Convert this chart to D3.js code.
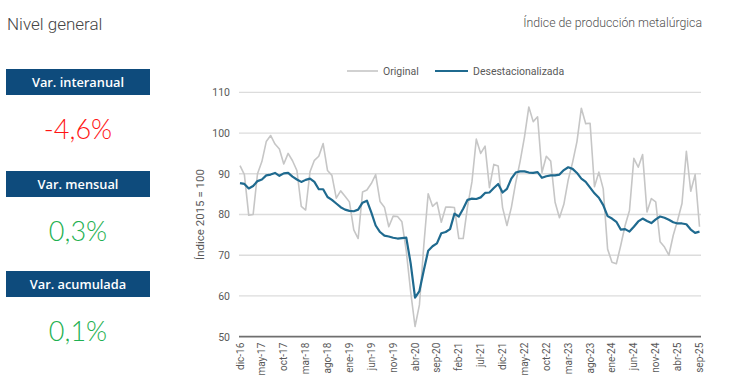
<!DOCTYPE html>
<html>
<head>
<meta charset="utf-8">
<script src="https://cdn.jsdelivr.net/npm/d3@7"></script>
<style>
  body { margin: 0; background: #fff; }
  svg { display: block; }
  .axis-txt { font-family: "Liberation Sans Narrow", "Roboto", sans-serif; fill: #595959; }
</style>
</head>
<body>
<svg id="chart" width="730" height="388"></svg>
<script>
'use strict';

// monthly categories dic-16 .. sep-25
let monthNames = ["ene","feb","mar","abr","may","jun","jul","ago","sep","oct","nov","dic"];
let months = [];
for (let k = 11; k < 11 + 106; k++) {
    months.push(monthNames[k % 12] + "-" + (16 + Math.floor(k / 12)));
}

let tickLabels = ["dic-16","may-17","oct-17","mar-18","ago-18","ene-19","jun-19","nov-19",
    "abr-20","sep-20","feb-21","jul-21","dic-21","may-22","oct-22","mar-23","ago-23",
    "ene-24","jun-24","nov-24","abr-25","sep-25"];

let yTicks = [50, 60, 70, 80, 90, 100, 110];

let original = [
    92.0, 89.8, 79.8, 80.0, 90.0, 93.0, 97.9, 99.4, 97.3, 96.1,
    92.4, 95.0, 93.2, 90.8, 82.0, 81.1, 90.5, 93.3, 94.3, 97.4,
    90.8, 89.6, 84.0, 85.8, 84.5, 83.1, 76.2, 74.1, 85.5, 86.0,
    87.6, 89.8, 83.2, 81.8, 77.0, 79.6, 79.5, 78.2, 71.0, 61.0,
    52.5, 57.8, 72.4, 85.1, 82.0, 83.0, 78.1, 81.8, 81.8, 81.7,
    74.1, 74.1, 82.0, 88.0, 98.5, 95.0, 96.8, 86.6, 92.3, 91.9,
    81.7, 77.3, 81.7, 87.8, 93.0, 99.0, 106.4, 102.8, 104.0, 90.3,
    94.3, 93.1, 83.0, 79.2, 82.5, 88.5, 92.8, 97.9, 106.1, 102.3,
    102.4, 86.8, 90.4, 86.3, 71.5, 68.3, 67.9, 72.4, 77.3, 81.0,
    93.8, 91.6, 94.7, 80.6, 83.9, 83.1, 73.3, 72.0, 70.0, 74.9,
    78.6, 82.7, 95.5, 85.7, 89.8, 77.0
];

let desest = [
    87.7, 87.5, 86.4, 87.0, 88.2, 88.6, 89.6, 89.8, 90.2, 89.5,
    90.1, 90.2, 89.3, 88.6, 88.0, 88.5, 88.8, 88.0, 86.2, 86.2,
    84.3, 83.6, 82.7, 81.8, 81.2, 80.9, 80.8, 81.2, 82.9, 83.4,
    80.5, 77.3, 75.7, 74.8, 74.6, 74.3, 74.1, 74.2, 74.3, 68.0,
    59.6, 61.2, 66.3, 71.1, 72.2, 72.9, 75.4, 75.7, 76.4, 80.2,
    79.5, 81.4, 83.6, 83.9, 83.8, 84.2, 85.3, 85.4, 86.5, 87.5,
    85.4, 86.3, 88.8, 90.3, 90.6, 90.6, 90.3, 90.2, 90.4, 89.0,
    89.4, 89.6, 89.6, 89.8, 90.9, 91.6, 91.2, 90.2, 88.8, 88.0,
    86.6, 85.2, 84.1, 82.3, 79.6, 79.0, 78.2, 76.3, 76.4, 75.8,
    77.0, 78.3, 79.0, 78.4, 77.9, 78.8, 79.5, 79.2, 78.7, 78.1,
    77.8, 77.8, 77.6, 76.3, 75.5, 75.8
];

let kpiLabels = ["Var. interanual", "Var. mensual", "Var. acumulada"];
let kpiValues = ["-4,6%", "0,3%", "0,1%"];
let kpiColors = ["#ff1414", "#1fb152", "#1fb152"];

let svg = d3.select("#chart");

// header
svg.append("text")
    .attr("x", 7).attr("y", 30)
    .style("font-family", "Roboto, 'Open Sans', sans-serif")
    .style("font-weight", 300)
    .style("font-size", "17px")
    .style("fill", "#454545")
    .text("Nivel general");

svg.append("text")
    .attr("x", 702).attr("y", 27)
    .attr("text-anchor", "end")
    .style("font-family", "Roboto, 'Open Sans', sans-serif")
    .style("font-weight", 300)
    .style("font-size", "12.3px")
    .style("fill", "#505050")
    .text("Índice de producción metalúrgica");

// KPI boxes on the left
let kpiTop = [69, 171, 271];
let kpi = svg.selectAll("g.kpi")
    .data(kpiLabels)
    .enter().append("g")
    .attr("class", "kpi")
    .attr("transform", (d, i) => "translate(6," + kpiTop[i] + ")");
kpi.append("rect")
    .attr("width", 144).attr("height", 26)
    .attr("fill", "#0e4b7c");
kpi.append("text")
    .attr("x", 72).attr("y", 18)
    .attr("text-anchor", "middle")
    .style("font-family", "'Open Sans', Lato, sans-serif")
    .style("font-weight", 600)
    .style("font-size", "12.8px")
    .style("fill", "#fff")
    .text(d => d);
kpi.append("text")
    .attr("x", 72).attr("y", 70)
    .attr("text-anchor", "middle")
    .style("font-family", "Lato, 'Open Sans', sans-serif")
    .style("font-weight", 300)
    .style("font-size", "27px")
    .style("fill", (d, i) => kpiColors[i])
    .text((d, i) => kpiValues[i]);

// chart
let margin = {left: 239, right: 701, top: 92.3, bottom: 336.7};

let x = d3.scalePoint()
    .domain(months)
    .range([240, 699.5]);

let y = d3.scaleLinear()
    .domain([50, 110])
    .range([margin.bottom, margin.top]);

// gridlines
svg.append("g")
    .selectAll("line")
    .data(yTicks.filter(d => d > 50))
    .enter().append("line")
    .attr("x1", margin.left).attr("x2", margin.right)
    .attr("y1", d => y(d)).attr("y2", d => y(d))
    .attr("stroke", "#dcdcdc")
    .attr("stroke-width", 1.3);

// y axis labels
let yAxis = svg.append("g")
    .attr("transform", "translate(" + margin.left + ",0)")
    .call(d3.axisLeft(y).tickValues(yTicks).tickSize(0).tickPadding(9));
yAxis.select(".domain").remove();
yAxis.selectAll("text")
    .attr("class", "axis-txt")
    .style("font-size", "10.5px");

// x axis
let xAxis = svg.append("g")
    .attr("transform", "translate(0," + margin.bottom + ")")
    .call(d3.axisBottom(x).tickValues(tickLabels).tickSize(0).tickPadding(6));
xAxis.select(".domain").remove();
xAxis.selectAll("text")
    .attr("class", "axis-txt")
    .style("font-size", "10px")
    .attr("text-anchor", "end")
    .attr("transform", "rotate(-90)")
    .attr("x", -6)
    .attr("y", 0)
    .attr("dy", "0.3em");

svg.append("line")
    .attr("x1", margin.left).attr("x2", margin.right)
    .attr("y1", margin.bottom).attr("y2", margin.bottom)
    .attr("stroke", "#6f6f6f")
    .attr("stroke-width", 1.8);

// y axis title
svg.append("text")
    .attr("class", "axis-txt")
    .attr("transform", "translate(204," + ((margin.top + margin.bottom) / 2) + ") rotate(-90)")
    .attr("text-anchor", "middle")
    .style("font-size", "11.5px")
    .text("Índice 2015 = 100");

// lines
let line = d3.line()
    .x((d, i) => x(months[i]))
    .y(d => y(d));

svg.append("path")
    .attr("d", line(original))
    .attr("fill", "none")
    .attr("stroke", "#c6c6c6")
    .attr("stroke-width", 1.6)
    .attr("stroke-linejoin", "round");

svg.append("path")
    .attr("d", line(desest))
    .attr("fill", "none")
    .attr("stroke", "#1f6a8f")
    .attr("stroke-width", 2.2)
    .attr("stroke-linejoin", "round");

// legend
let legend = [
    {name: "Original", color: "#c6c6c6", w: 1.6, x1: 347, x2: 378},
    {name: "Desestacionalizada", color: "#1f6a8f", w: 2.2, x1: 435, x2: 468}
];
let lg = svg.selectAll("g.legend")
    .data(legend)
    .enter().append("g")
    .attr("class", "legend");
lg.append("line")
    .attr("x1", d => d.x1).attr("x2", d => d.x2)
    .attr("y1", 71).attr("y2", 71)
    .attr("stroke", d => d.color)
    .attr("stroke-width", d => d.w);
lg.append("text")
    .attr("class", "axis-txt")
    .attr("x", d => d.x2 + 5)
    .attr("y", 74.5)
    .style("font-size", "10.5px")
    .text(d => d.name);
</script>
</body>
</html>
